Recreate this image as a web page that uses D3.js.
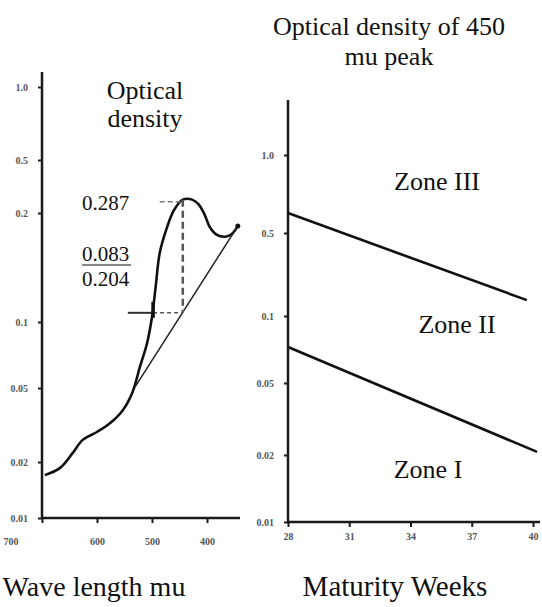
<!DOCTYPE html>
<html>
<head>
<meta charset="utf-8">
<script src="https://cdn.jsdelivr.net/npm/d3@7"></script>
<style>
  body { margin: 0; background: #fff; }
  svg text { font-family: "Liberation Serif", "Times New Roman", serif; fill: #111; }
  .tick text { fill: #555; font-size: 10px; font-weight: bold; }
  .domain { stroke: #1a1a1a; stroke-width: 2.5; }
  .tick line { stroke: #1a1a1a; stroke-width: 2; }
</style>
</head>
<body>
<svg width="542" height="607"></svg>
<script>
// ---- data ----
// left panel: absorption spectrum
var waveLengths   = [695, 667, 644, 626, 600, 576, 553, 536, 522, 509, 500, 493, 486, 473, 460, 444, 427, 416, 405, 395, 382, 367, 355, 344];
var opticalDensity = [0.0170, 0.0186, 0.0224, 0.0263, 0.0290, 0.0324, 0.0380, 0.0470, 0.0624, 0.0800, 0.1032, 0.1265, 0.155, 0.182, 0.210, 0.252, 0.252, 0.234, 0.199, 0.183, 0.174, 0.172, 0.175, 0.184];
var baseWave    = [531, 344];
var baseDensity = [0.0505, 0.184];
var peakWave = 444, peakTop = 0.252, peakBase = 0.106;
var crossWave = 498, crossStart = 544;
var peakNotes = ["0.287", "0.083", "0.204"];

var leftYTicks  = [0.01, 0.02, 0.05, 0.1, 0.2, 0.5, 1];
var leftYLabels = ["0.01", "0.02", "0.05", "0.1", "0.2", "0.5", "1.0"];
var leftXTicks  = [700, 600, 500, 400];

// right panel: 450 mu peak vs maturity
var upperWeeks = [28, 39.7];
var upperOD    = [0.597, 0.136];
var lowerWeeks = [28, 40.2];
var lowerOD    = [0.0726, 0.0208];
var zoneNames  = ["Zone III", "Zone II", "Zone I"];

var rightYTicks  = [0.01, 0.02, 0.05, 0.1, 0.5, 1];
var rightYLabels = ["0.01", "0.02", "0.05", "0.1", "0.5", "1.0"];
var rightXTicks  = [28, 31, 34, 37, 40];

var svg = d3.select("svg");

// the printed axes are not evenly spaced, so the log scales are piecewise
var xL = d3.scaleLinear().domain([700, 340]).range([42, 240]);
var yL = d3.scaleLog().domain(leftYTicks).range([518, 462, 388, 322, 213, 160, 87]);
var xR = d3.scaleLinear().domain([28, 40]).range([288, 533]);
var yR = d3.scaleLog().domain(rightYTicks).range([522, 455, 383, 316, 233, 155]);

/////////////// left panel ///////////////
var gyL = svg.append("g").attr("transform", "translate(42,0)")
  .call(d3.axisLeft(yL).tickValues(leftYTicks).tickSize(4).tickPadding(10)
    .tickFormat(function(d, i) { return leftYLabels[i]; }));
gyL.select(".domain").attr("d", "M0,72V" + yL(0.01));

var gxL = svg.append("g").attr("transform", "translate(0," + yL(0.01) + ")")
  .call(d3.axisBottom(xL).tickValues(leftXTicks).tickSize(5).tickPadding(15));
gxL.select(".domain").attr("d", "M" + xL(700) + ",0H240");
gxL.selectAll(".tick text").filter(function(d) { return d === 700; })
  .attr("text-anchor", "end").attr("dx", -24);

var lineL = d3.line().curve(d3.curveCatmullRom)
  .x(function(d, i) { return xL(waveLengths[i]); })
  .y(function(d) { return yL(d); });

svg.append("path").datum(opticalDensity)
  .attr("d", lineL).attr("fill", "none")
  .attr("stroke", "#111").attr("stroke-width", 2.6);

// tangent baseline under the peak
svg.append("line")
  .attr("x1", xL(baseWave[0])).attr("y1", yL(baseDensity[0]))
  .attr("x2", xL(baseWave[1])).attr("y2", yL(baseDensity[1]))
  .attr("stroke", "#222").attr("stroke-width", 1.5);

// end dot
svg.append("circle").attr("cx", xL(baseWave[1])).attr("cy", yL(baseDensity[1]))
  .attr("r", 2.5).attr("fill", "#111");

// peak drop line
svg.append("line")
  .attr("x1", xL(peakWave)).attr("y1", yL(peakTop))
  .attr("x2", xL(peakWave)).attr("y2", yL(peakBase))
  .attr("stroke", "#555").attr("stroke-width", 2.5).attr("stroke-dasharray", "7,4");
svg.append("line")
  .attr("x1", xL(peakWave + 42)).attr("y1", yL(peakTop) + 2)
  .attr("x2", xL(peakWave)).attr("y2", yL(peakTop) + 2)
  .attr("stroke", "#777").attr("stroke-width", 1.5).attr("stroke-dasharray", "5,3");

// horizontal at the base value
svg.append("line")
  .attr("x1", xL(crossStart)).attr("y1", yL(peakBase))
  .attr("x2", xL(crossWave)).attr("y2", yL(peakBase))
  .attr("stroke", "#333").attr("stroke-width", 2);
svg.append("line")
  .attr("x1", xL(crossWave)).attr("y1", yL(peakBase))
  .attr("x2", xL(peakWave)).attr("y2", yL(peakBase))
  .attr("stroke", "#555").attr("stroke-width", 1.5).attr("stroke-dasharray", "4,3");
svg.append("line")
  .attr("x1", xL(crossWave)).attr("y1", yL(peakBase) - 11)
  .attr("x2", xL(crossWave)).attr("y2", yL(peakBase) + 5)
  .attr("stroke", "#111").attr("stroke-width", 3.5);

svg.append("text").attr("x", 145).attr("y", 99).attr("text-anchor", "middle")
  .style("font-size", "26px").text("Optical");
svg.append("text").attr("x", 145).attr("y", 127).attr("text-anchor", "middle")
  .style("font-size", "26px").text("density");

var noteY = [210, 261, 286];
peakNotes.forEach(function(t, i) {
  svg.append("text").attr("x", 82).attr("y", noteY[i])
    .style("font-size", "21px").text(t);
});
svg.append("line").attr("x1", 82).attr("x2", 131).attr("y1", 265).attr("y2", 265)
  .attr("stroke", "#111").attr("stroke-width", 1.2);

/////////////// right panel ///////////////
var gyR = svg.append("g").attr("transform", "translate(288,0)")
  .call(d3.axisLeft(yR).tickValues(rightYTicks).tickSize(4).tickPadding(10)
    .tickFormat(function(d, i) { return rightYLabels[i]; }));
gyR.select(".domain").attr("d", "M0,100V" + yR(0.01));

var gxR = svg.append("g").attr("transform", "translate(0," + yR(0.01) + ")")
  .call(d3.axisBottom(xR).tickValues(rightXTicks).tickSize(5).tickPadding(6));
gxR.select(".domain").attr("d", "M288,0H540");

var lineR = d3.line()
  .x(function(d) { return xR(d[0]); })
  .y(function(d) { return yR(d[1]); });

svg.append("path").datum(d3.zip(upperWeeks, upperOD))
  .attr("d", lineR).attr("fill", "none")
  .attr("stroke", "#111").attr("stroke-width", 2.6);
svg.append("path").datum(d3.zip(lowerWeeks, lowerOD))
  .attr("d", lineR).attr("fill", "none")
  .attr("stroke", "#111").attr("stroke-width", 2.6);

var zonePos = [[437, 190], [457, 333], [428, 478]];
zoneNames.forEach(function(z, i) {
  svg.append("text").attr("x", zonePos[i][0]).attr("y", zonePos[i][1])
    .attr("text-anchor", "middle").style("font-size", "26px").text(z);
});

svg.append("text").attr("x", 389).attr("y", 35).attr("text-anchor", "middle")
  .style("font-size", "26px").text("Optical density of 450");
svg.append("text").attr("x", 389).attr("y", 65).attr("text-anchor", "middle")
  .style("font-size", "26px").text("mu peak");

// axis titles
svg.append("text").attr("x", 94).attr("y", 596).attr("text-anchor", "middle")
  .style("font-size", "28px").text("Wave length mu");
svg.append("text").attr("x", 395).attr("y", 596).attr("text-anchor", "middle")
  .style("font-size", "29px").text("Maturity Weeks");
</script>
</body>
</html>
